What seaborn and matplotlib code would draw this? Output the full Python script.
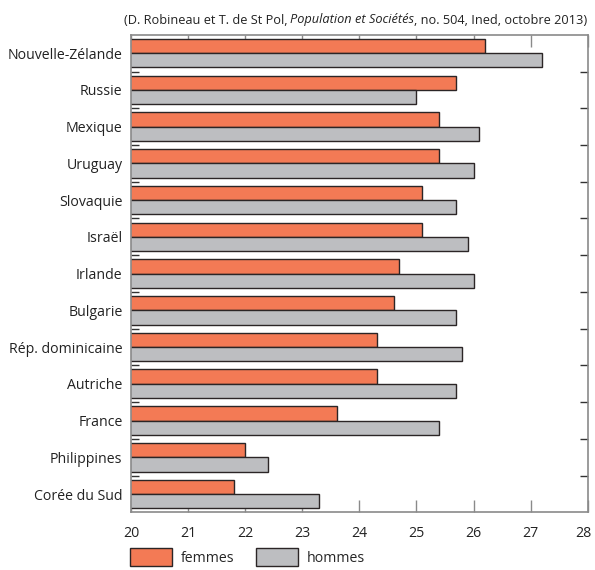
import pandas as pd
import seaborn as sns
import matplotlib.pyplot as plt
import matplotlib.transforms as mtransforms
from matplotlib.patches import Patch
from matplotlib.ticker import FixedLocator

# donnees (age moyen au premier mariage ?)
pays = ["Nouvelle-Zélande", "Russie", "Mexique", "Uruguay", "Slovaquie", "Israël",
        "Irlande", "Bulgarie", "Rép. dominicaine", "Autriche", "France",
        "Philippines", "Corée du Sud"]
femmes = [26.2, 25.7, 25.4, 25.4, 25.1, 25.1, 24.7, 24.6, 24.3, 24.3, 23.6, 22.0, 21.8]
hommes = [27.2, 25.0, 26.1, 26.0, 25.7, 25.9, 26.0, 25.7, 25.8, 25.7, 25.4, 22.4, 23.3]
xticks = [20, 21, 22, 23, 24, 25, 26, 27, 28]

col_f = "#F37A55"
col_h = "#BDBEC1"
edge = "#2b2526"
spine_col = "#8a8a8a"

df = pd.DataFrame({"pays": pays * 2,
                   "age": femmes + hommes,
                   "sexe": ["femmes"] * len(pays) + ["hommes"] * len(pays)})

sns.set_style("white")
plt.rcParams['font.family'] = ['Open Sans', 'DejaVu Sans']

fig = plt.figure(figsize=(5.95, 5.7), dpi=100)
ax = fig.add_axes([0.220, 0.101, 0.768, 0.838])

sns.barplot(data=df, x="age", y="pays", hue="sexe", orient="h",
            palette={"femmes": col_f, "hommes": col_h}, width=0.78,
            edgecolor=edge, linewidth=1.0, saturation=1, legend=False, ax=ax)

fs = 10.2
ax.set_xlim(20, 28)
ax.set_ylim(len(pays) - 0.5, -0.5)
ax.set_xticks(xticks)
ax.set_xticklabels([str(t) for t in xticks], fontsize=fs, color="#222222")
ax.set_xlabel("")
ax.set_ylabel("")
ax.tick_params(axis="x", direction="in", length=8.5, width=1, color=spine_col,
               top=True, bottom=True, pad=10)
ax.tick_params(axis="y", which="major", length=0, labelsize=fs, labelcolor="#222222", pad=6)
ax.yaxis.set_minor_locator(FixedLocator([i + 0.5 for i in range(len(pays) - 1)]))
ax.tick_params(axis="y", which="minor", direction="in", length=5.5, width=1,
               color="#333333", left=True, right=True)
for s in ax.spines.values():
    s.set_visible(True)
    s.set_color(spine_col)
    s.set_linewidth(1.2)

# le dernier label un peu decale pour rester dans l'image
last = ax.get_xticklabels()[-1]
last.set_transform(last.get_transform() +
                   mtransforms.ScaledTranslation(-4 / 100, 0, fig.dpi_scale_trans))

# legende en bas
handles = [Patch(facecolor=col_f, edgecolor=edge, label="femmes"),
           Patch(facecolor=col_h, edgecolor=edge, label="hommes")]
ax.legend(handles=handles, loc="upper left", bbox_to_anchor=(-0.002, -0.075), ncol=2,
          frameon=False, fontsize=fs, handlelength=3.0, handleheight=1.6,
          handletextpad=0.6, columnspacing=1.5, borderaxespad=0, borderpad=0)

# source en haut a droite (avec partie en italique)
fig.canvas.draw()
r = fig.canvas.get_renderer()
fs2 = 9.2
yy = 1 - 20 / 570
t3 = fig.text(587 / 595, yy, ", no. 504, Ined, octobre 2013)", fontsize=fs2,
              ha="right", va="center", color="#222222")
b3 = t3.get_window_extent(r)
t2 = fig.text(b3.x0 / fig.bbox.width, yy, "Population et Sociétés", fontsize=fs2,
              style="italic", ha="right", va="center", color="#222222")
b2 = t2.get_window_extent(r)
fig.text(b2.x0 / fig.bbox.width - 0.004, yy, "(D. Robineau et T. de St Pol,", fontsize=fs2,
         ha="right", va="center", color="#222222")

fig.savefig("out.png", dpi=100)
